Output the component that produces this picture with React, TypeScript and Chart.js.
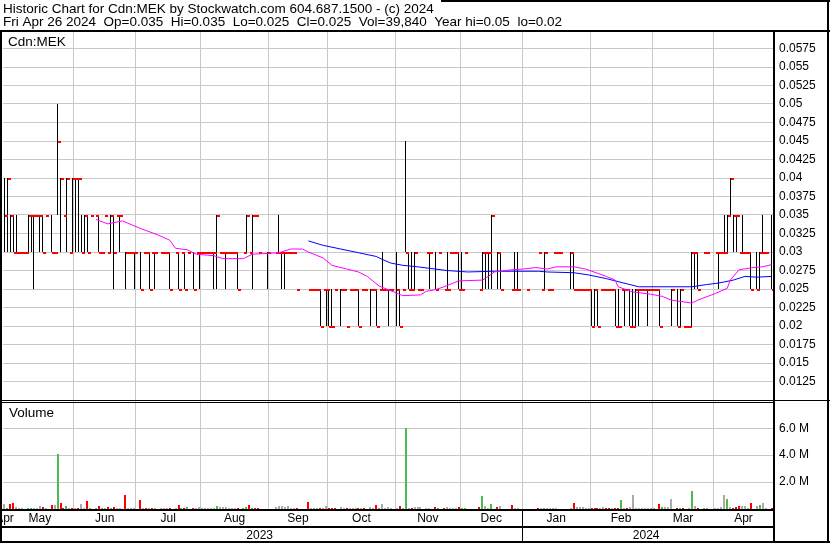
import React, { useEffect, useRef } from 'react';
import { Chart, registerables } from 'chart.js';

Chart.register(...registerables);

const CANVAS_W = 830;
const CANVAS_H = 543;
const FONT = '"Liberation Sans", Arial, Helvetica, sans-serif';
const GRID = '#c8c8c8';
const HEADER_FONT_SIZE = 13.5;

const TITLE = 'Historic Chart for Cdn:MEK by Stockwatch.com 604.687.1500 - (c) 2024';
const SUBTITLE = 'Fri Apr 26 2024  Op=0.035  Hi=0.035  Lo=0.025  Cl=0.025  Vol=39,840  Year hi=0.05  lo=0.02';
const PRICE_CAPTION = 'Cdn:MEK';
const VOLUME_CAPTION = 'Volume';

// Trading-day index: 0 = Fri Apr 28 2023 ... 260 = Fri Apr 26 2024 (null = no trade)
const highs = [
  .04, .04, .035, .035, .035, .03, .03, .03, .035, .035,
  .035, .035, .035, .035, .035, null, .035, .03, .05, .04,
  .035, .04, .03, .04, .04, .04, .035, .035, .035, .035,
  null, .035, .035, .03, .035, .03, .035, .035, .035, .035,
  null, .03, .03, .03, .03, null, .03, .03, .03, .03,
  .03, .03, null, .03, .03, .03, .03, null, .03, .03,
  .03, .03, .03, null, .03, .03, .03, .03, .03, .03,
  .03, .03, .035, .03, .03, .03, .03, .03, .03, .03,
  null, .03, .035, .03, .035, .035, .03, null, null, .03,
  null, null, .03, .035, .03, .03, .03, .03, .03, .025,
  null, null, null, .025, .025, .025, .025, .025, .025, .025,
  .025, .025, .025, null, .025, .025, .02, .025, .025, .025,
  .025, .025, .025, null, .025, .025, .025, .025, .03, .025,
  .025, .025, null, .03, .025, .025, .045, .03, .03, .03,
  .025, .025, null, .03, .03, null, .03, .03, null, .025,
  .03, .03, .03, .03, .03, .03, .03, null, null, null,
  null, .025, .03, .03, .03, .035, null, .03, .03, null,
  null, null, .025, .03, .03, null, null, .025, null, null,
  null, .03, .025, .03, .025, .025, .03, .03, .03, null,
  null, null, .03, .03, .025, .025, .025, .025, .025, .025,
  .025, .025, .025, .025, .025, .025, .025, .025, .025, .025,
  .025, .025, .025, .025, .025, .025, .025, .025, .025, .025,
  .025, .025, .025, null, null, null, .025, null, .025, .025,
  .02, .02, .02, .03, .03, .03, null, .03, .03, null,
  null, .03, .03, .03, .035, .035, .04, .035, .035, .03,
  .035, .03, .03, .03, null, .03, .03, .035, .03, null,
  .035,
];

const lows = [
  .03, .03, .03, .03, .03, .03, .03, .03, .03, .03,
  .025, .035, .03, .03, .035, null, .03, .03, .035, .03,
  .035, .03, .03, .03, .03, .03, .03, .03, .03, .035,
  null, .035, .03, .03, .035, .03, .03, .025, .035, .03,
  null, .025, .03, .03, .025, null, .025, .03, .03, .025,
  .03, .025, null, .03, .03, .03, .025, null, .03, .025,
  .03, .025, .03, null, .025, .03, .025, .03, .03, .03,
  .03, .025, .025, .03, .03, .025, .03, .03, .03, .025,
  null, .03, .03, .03, .025, .035, .03, null, null, .025,
  null, null, .03, .03, .025, .025, .03, .03, .03, .025,
  null, null, null, .025, .025, .025, .025, .02, .025, .02,
  .02, .02, .025, null, .02, .025, .02, .025, .025, .025,
  .02, .025, .025, null, .02, .025, .02, .025, .025, .025,
  .02, .025, null, .02, .02, .025, .03, .025, .025, .025,
  .025, .025, null, .03, .025, null, .025, .03, null, .025,
  .025, .03, .03, .03, .025, .025, .03, null, null, null,
  null, .025, .025, .025, .025, .025, null, .025, .025, null,
  null, null, .025, .025, .025, null, null, .025, null, null,
  null, .03, .025, .025, .025, .025, .03, .03, .03, null,
  null, null, .025, .025, .025, .025, .025, .025, .025, .02,
  .02, .02, .025, .025, .025, .025, .025, .02, .02, .025,
  .02, .025, .02, .02, .02, .02, .025, .025, .02, .025,
  .025, .025, .02, null, null, null, .02, null, .02, .02,
  .02, .02, .02, .02, .025, .025, null, .03, .03, null,
  null, .03, .025, .03, .03, .03, .035, .03, .03, .03,
  .03, .03, .03, .025, null, .025, .025, .03, .03, null,
  .025,
];

const closes = [
  .035, .04, .035, .03, .03, .03, .03, .03, .035, .035,
  .035, .035, .035, .03, .035, null, .03, .03, .045, .04,
  .035, .04, .03, .04, .04, .04, .03, .035, .03, .035,
  null, .035, .03, .03, .035, .03, .035, .03, .035, .035,
  null, .03, .03, .03, .03, null, .025, .03, .03, .025,
  .03, .03, null, .03, .03, .03, .025, null, .03, .025,
  .03, .025, .03, null, .025, .03, .03, .03, .03, .03,
  .03, .03, .035, .03, .03, .03, .03, .03, .03, .025,
  null, .03, .035, .03, .035, .035, .03, null, null, .03,
  null, null, .03, .03, .03, .03, .03, .03, .03, .025,
  null, null, null, .025, .025, .025, .025, .02, .025, .025,
  .02, .02, .025, null, .025, .025, .02, .025, .025, .025,
  .02, .025, .025, null, .025, .025, .02, .025, .025, .025,
  .025, .025, null, .025, .02, .025, .03, .025, .025, .03,
  .025, .025, null, .03, .03, null, .025, .03, null, .025,
  .025, .03, .03, .03, .025, .025, .03, null, null, null,
  null, .025, .03, .03, .03, .035, null, .03, .025, null,
  null, null, .025, .025, .025, null, null, .025, null, null,
  null, .03, .025, .03, .025, .025, .03, .03, .03, null,
  null, null, .03, .025, .025, .025, .025, .025, .025, .02,
  .025, .02, .025, .025, .025, .025, .025, .02, .02, .025,
  .025, .025, .02, .02, .025, .025, .025, .025, .025, .025,
  .025, .025, .02, null, null, null, .025, null, .02, .025,
  .02, .02, .02, .03, .03, .025, null, .03, .03, null,
  null, .03, .03, .03, .03, .035, .04, .035, .035, .03,
  .03, .03, .03, .025, null, .025, .03, .03, .03, null,
  .025,
];

// Daily volume in millions of shares
const volumesM = [
  0.38, 0.05, 0.35, 0.48, 0.15, 0.05, 0.05, 0.03, 0.06, 0.06,
  0.08, 0.04, 0.23, 0.12, 0.05, 0, 0.3, 0.3, 4.07, 0.48,
  0.05, 0.23, 0.05, 0.06, 0.04, 0.05, 0.4, 0.05, 0.6, 0.05,
  0, 0.05, 0.23, 0.05, 0.04, 0.15, 0.1, 0.15, 0.06, 0.06,
  0, 1.06, 0.08, 0.06, 0.04, 0, 0.68, 0.05, 0.06, 0.05,
  0.05, 0.05, 0, 0.08, 0.06, 0.05, 0.06, 0, 0.05, 0.3,
  0.1, 0.06, 0.15, 0, 0.06, 0.05, 0.12, 0.08, 0.06, 0.08,
  0.05, 0.06, 0.23, 0.15, 0.15, 0.15, 0.1, 0.08, 0.05, 0.06,
  0, 0.05, 0.15, 0.3, 0.08, 0.05, 0.05, 0, 0, 0.03,
  0, 0, 0.12, 0.2, 0.2, 0.15, 0.2, 0.1, 0.05, 0.08,
  0, 0, 0, 0.53, 0.08, 0.06, 0.05, 0.1, 0.06, 0.2,
  0.06, 0.05, 0.06, 0, 0.15, 0.05, 0.08, 0.05, 0.04, 0.06,
  0.08, 0.05, 0.06, 0, 0.15, 0.05, 0.3, 0.06, 0.4, 0.1,
  0.12, 0.08, 0, 0.1, 0.23, 0.05, 6.02, 0.05, 0.1, 0.15,
  0.12, 0.15, 0, 0.1, 0.05, 0, 0.15, 0.06, 0, 0.06,
  0.15, 0.08, 0.08, 0.06, 0.15, 0.06, 0.05, 0, 0, 0,
  0, 0.15, 0.98, 0.23, 0.05, 0.4, 0, 0.12, 0.23, 0,
  0, 0, 0.3, 0.08, 0.06, 0, 0, 0.03, 0, 0,
  0, 0.05, 0.06, 0.08, 0.06, 0.06, 0.06, 0.05, 0.03, 0,
  0, 0, 0.05, 0.48, 0.15, 0.15, 0.12, 0.1, 0.08, 0.05,
  0.06, 0.05, 0.06, 0.15, 0.06, 0.06, 0.05, 0.05, 0.05, 0.68,
  0.05, 0.06, 0.15, 1.06, 0.1, 0.1, 0.08, 0.1, 0.06, 0.08,
  0.04, 0.03, 0.4, 0.15, 0.15, 0.12, 0.78, 0, 0.06, 0.08,
  0.05, 0.03, 0.05, 1.36, 0.23, 0.1, 0, 0.05, 0.05, 0,
  0, 0.08, 0.1, 0.12, 1.06, 0.78, 0.12, 0.08, 0.15, 0.23,
  0.2, 0.2, 0.1, 0.43, 0, 0.23, 0.3, 0.48, 0.05, 0,
  0.04,
];

// Day direction shown by the volume colour: u = up, d = down, n = unchanged
const volumeDirection =
  'nuddnnnnuu' + 'nnndnndnud' + 'dundndnndu' + 'nndundudnn' + 'ndnnnndndn' +
  'dnnnnndnnd' + 'udundnnnnn' + 'nnunnnnnnd' + 'nuududdnnn' + 'nnnnnnnnnd' +
  'nnndnnndnn' + 'dddnnndnnn' + 'dndnnndunn' + 'nnnndnundn' + 'nnnnnndund' +
  'nnnnduunnn' + 'ndunnundnn' + 'nndnnnnnnn' + 'ndnunnnnnn' + 'nnndnnnnnd' +
  'ddnnddnddu' + 'ndnnnnnnnn' + 'nndunnnndu' + 'dnnundnuun' + 'nnnnnunddd' +
  'nnndnnunnn' + 'd';

// Moving averages (day index, price)
const maShortDays = [31, 35, 40, 46, 52, 56, 58, 62, 65, 71, 74, 81, 84, 93, 97, 101, 103, 108, 111, 116, 120, 123, 127, 132, 135, 141, 143, 146, 149, 154, 162, 164, 166, 172, 176, 180, 184, 187, 193, 197, 204, 207, 208, 213, 219, 223, 226, 233, 235, 241, 245, 246, 249, 254, 257, 260];
const maShortValues = [.0344, .0338, .0342, .0332, .0323, .0316, .0305, .0303, .0297, .0295, .0291, .0291, .0297, .0299, .0304, .0304, .0300, .0292, .0282, .0277, .0273, .0267, .0254, .0246, .0241, .0242, .0247, .0249, .0253, .0261, .0262, .0267, .0273, .0276, .0277, .0279, .0277, .0280, .0280, .0277, .0267, .0262, .0253, .0246, .0243, .0240, .0235, .0231, .0235, .0244, .0251, .0262, .0276, .0279, .0280, .0283];
const maLongDays = [103, 108, 114, 120, 126, 128, 131, 135, 140, 146, 150, 157, 166, 172, 181, 184, 193, 198, 204, 210, 215, 233, 238, 242, 247, 251, 255, 260];
const maLongValues = [.0315, .0309, .0304, .0299, .0294, .0290, .0285, .0282, .0280, .0277, .0275, .0273, .0274, .0274, .0274, .0273, .0272, .0269, .0264, .0258, .0253, .0253, .0256, .0258, .0262, .0267, .0266, .0267];

// Axis ticks
const monthLabels = ['Apr', 'May', 'Jun', 'Jul', 'Aug', 'Sep', 'Oct', 'Nov', 'Dec', 'Jan', 'Feb', 'Mar', 'Apr'];
const monthBounds = [-0.5, 0.5, 23.5, 44.5, 66.5, 89.5, 109.5, 132.5, 154.5, 175.5, 198.5, 219.5, 240.5, 260.5];
const yearLabels = ['2023', '2024'];
const yearCenters = [86.5, 217.5];
const priceTicks = [.0125, .015, .0175, .02, .0225, .025, .0275, .03, .0325, .035, .0375, .04, .0425, .045, .0475, .05, .0525, .055, .0575];
const volumeTicks = [2e6, 4e6, 6e6];

const DIR_COLORS: Record<string, string> = { u: '#4cbb4c', d: '#ff0000', n: '#aaaaaa' };

function makeCloseTick(): HTMLCanvasElement {
  const c = document.createElement('canvas');
  c.width = 8;
  c.height = 4;
  const g = c.getContext('2d')!;
  g.fillStyle = '#ff0000';
  g.fillRect(5, 2, 3, 2);
  return c;
}

const snapPlugin = {
  id: 'snapPixels',
  afterDatasetsUpdate(chart: any) {
    chart.data.datasets.forEach((ds: any, di: number) => {
      const meta = chart.getDatasetMeta(di);
      meta.data.forEach((el: any) => {
        if (ds.label === 'Range') {
          el.x = Math.floor(el.x) + 0.5;
          el.y = Math.round(el.y);
          el.base = Math.round(el.base);
        } else if (ds.label === 'Close') {
          el.x = Math.floor(el.x);
          el.y = Math.round(el.y);
        } else if (ds.label === 'Volume') {
          el.x = Math.round(el.x);
          el.y = Math.round(el.y);
          el.base = Math.round(el.base);
        }
      });
    });
  },
};

const framePlugin = {
  id: 'frame',
  afterDraw(chart: any) {
    const { ctx, chartArea: a } = chart;
    const yp = chart.scales.yp;
    const yv = chart.scales.yv;
    const xs = chart.scales.x;
    const xy = chart.scales.xy;
    ctx.save();
    ctx.fillStyle = '#000';
    ctx.font = `${HEADER_FONT_SIZE}px ${FONT}`;
    const tw = ctx.measureText(TITLE).width;
    const hdrStart = Math.round(a.left + tw + 7);
    ctx.fillRect(hdrStart, 0, CANVAS_W - hdrStart, 2);
    ctx.fillRect(0, a.top, CANVAS_W, 2);
    ctx.fillRect(0, a.top, 2, CANVAS_H - a.top);
    ctx.fillRect(CANVAS_W - 3, 0, 2, CANVAS_H);
    ctx.fillRect(a.right, a.top, 2, CANVAS_H - a.top);
    ctx.fillRect(0, yp.bottom, CANVAS_W, 1);
    ctx.fillRect(0, yv.top + 2, a.right, 1);
    ctx.fillRect(0, a.bottom, a.right, 2);
    ctx.fillRect(0, xy.top - 1, a.right, 2);
    ctx.fillRect(0, CANVAS_H - 2, CANVAS_W, 2);
    const xd = Math.round(xs.getPixelForValue(monthBounds[9]));
    ctx.fillRect(xd, a.bottom, 1, CANVAS_H - a.bottom);
    ctx.font = `13.5px ${FONT}`;
    ctx.textBaseline = 'alphabetic';
    ctx.textAlign = 'left';
    ctx.fillText(PRICE_CAPTION, a.left + 5, yp.top + 16);
    ctx.fillText(VOLUME_CAPTION, a.left + 6, yv.top + 17);
    ctx.restore();
  },
};

export default function App() {
  const canvasRef = useRef<HTMLCanvasElement | null>(null);

  useEffect(() => {
    const canvas = canvasRef.current;
    if (!canvas) return;
    const days = highs.map((_, i) => i);
    const rangeData = days
      .filter((i) => highs[i] != null && lows[i] != null && (highs[i] as number) > (lows[i] as number))
      .map((i) => ({ x: i, y: [lows[i], highs[i]] }));
    const closeData = days.filter((i) => closes[i] != null).map((i) => ({ x: i, y: closes[i] }));
    const volData = days.filter((i) => volumesM[i] > 0).map((i) => ({ x: i, y: volumesM[i] * 1e6 }));
    const volColors = volData.map((p) => DIR_COLORS[volumeDirection[p.x]] || DIR_COLORS.n);
    const maShort = maShortDays.map((d, k) => ({ x: d, y: maShortValues[k] }));
    const maLong = maLongDays.map((d, k) => ({ x: d, y: maLongValues[k] }));
    const monthCenters = monthBounds.slice(0, -1).map((b, k) => (b + monthBounds[k + 1]) / 2);
    const tickFont = { family: FONT, size: 12 };
    const headerFont = { family: FONT, size: HEADER_FONT_SIZE, weight: 'normal', lineHeight: '12px' };
    const tickImg = makeCloseTick();

    const chart = new Chart(canvas, {
      type: 'bar',
      data: {
        datasets: [
          {
            type: 'line', label: 'MA short', data: maShort as any, xAxisID: 'x', yAxisID: 'yp',
            borderColor: '#ff00ff', borderWidth: 1, pointRadius: 0, fill: false, tension: 0, order: 0,
          },
          {
            type: 'line', label: 'MA long', data: maLong as any, xAxisID: 'x', yAxisID: 'yp',
            borderColor: '#0000ff', borderWidth: 1, pointRadius: 0, fill: false, tension: 0, order: 0,
          },
          {
            type: 'line', label: 'Close', data: closeData as any, xAxisID: 'x', yAxisID: 'yp',
            showLine: false, pointStyle: tickImg as any, pointRadius: 2, pointHoverRadius: 2, order: 1,
          },
          {
            type: 'bar', label: 'Range', data: rangeData as any, xAxisID: 'x', yAxisID: 'yp',
            backgroundColor: '#000000', borderWidth: 0, grouped: false, maxBarThickness: 1,
            inflateAmount: 0, order: 2,
          } as any,
          {
            type: 'bar', label: 'Volume', data: volData as any, xAxisID: 'x', yAxisID: 'yv',
            backgroundColor: volColors, borderWidth: 0, grouped: false, maxBarThickness: 2,
            inflateAmount: 0, order: 3,
          } as any,
        ],
      },
      options: {
        responsive: false,
        maintainAspectRatio: false,
        devicePixelRatio: 1,
        animation: false,
        events: [],
        layout: { padding: { left: 3, right: 0, top: 0, bottom: 2 }, autoPadding: false },
        plugins: {
          legend: { display: false },
          tooltip: { enabled: false },
          title: {
            display: true, text: TITLE, align: 'start', color: '#000',
            font: headerFont,
            padding: { top: 3.5, bottom: 0.5 },
          },
          subtitle: {
            display: true, text: SUBTITLE, align: 'start', color: '#000',
            font: headerFont,
            padding: { top: 0, bottom: 2 },
          },
        },
        scales: {
          x: {
            type: 'linear', position: 'bottom', min: -0.5, max: 260.5, offset: false, bounds: 'data',
            grid: { color: GRID, drawTicks: false, offset: false },
            border: { display: false },
            ticks: { display: false },
            afterBuildTicks: (s: any) => { s.ticks = monthBounds.slice(2, -1).map((v) => ({ value: v })); },
            afterFit: (s: any) => { s.height = 0; s.paddingLeft = 0; s.paddingRight = 0; },
          },
          xm: {
            type: 'linear', position: 'bottom', min: -0.5, max: 260.5, offset: false, bounds: 'data',
            grid: { display: false, drawTicks: false, offset: false },
            border: { display: false },
            ticks: {
              autoSkip: false, maxRotation: 0, minRotation: 0, padding: 2, font: tickFont, color: '#000',
              callback: (_v: any, i: number) => monthLabels[i],
            },
            afterBuildTicks: (s: any) => { s.ticks = monthCenters.map((v) => ({ value: v })); },
            afterFit: (s: any) => { s.height = 18; s.paddingLeft = 0; s.paddingRight = 0; },
          },
          xy: {
            type: 'linear', position: 'bottom', min: -0.5, max: 260.5, offset: false, bounds: 'data',
            grid: { display: false, drawTicks: false, offset: false },
            border: { display: false },
            ticks: {
              autoSkip: false, maxRotation: 0, minRotation: 0, padding: 1, font: tickFont, color: '#000',
              callback: (_v: any, i: number) => yearLabels[i],
            },
            afterBuildTicks: (s: any) => { s.ticks = yearCenters.map((v) => ({ value: v })); },
            afterFit: (s: any) => { s.height = 14; s.paddingLeft = 0; s.paddingRight = 0; },
          },
          yp: {
            type: 'linear', position: 'right', stack: 'panels', stackWeight: 370, min: 0.01, max: 0.06,
            bounds: 'data',
            grid: { color: GRID, drawTicks: false },
            border: { display: false },
            ticks: {
              autoSkip: false, padding: 6, font: tickFont, color: '#000',
              callback: (v: any) => String(+Number(v).toFixed(4)),
            },
            afterBuildTicks: (s: any) => { s.ticks = priceTicks.map((v) => ({ value: v })); },
            afterFit: (s: any) => { s.width = 57; s.paddingTop = 0; s.paddingBottom = 0; },
          },
          yv: {
            type: 'linear', position: 'right', stack: 'panels', stackWeight: 109, min: 0, max: 8.1e6,
            bounds: 'data',
            grid: { color: GRID, drawTicks: false },
            border: { display: false },
            ticks: {
              autoSkip: false, padding: 6, font: tickFont, color: '#000',
              callback: (v: any) => (Number(v) / 1e6).toFixed(1) + ' M',
            },
            afterBuildTicks: (s: any) => { s.ticks = volumeTicks.map((v) => ({ value: v })); },
            afterFit: (s: any) => { s.width = 57; s.paddingTop = 0; s.paddingBottom = 0; },
          },
        } as any,
      },
      plugins: [snapPlugin, framePlugin],
    } as any);

    return () => chart.destroy();
  }, []);

  return (
    <div style={{ position: 'absolute', left: 0, top: 0, width: CANVAS_W, height: CANVAS_H, background: '#fff' }}>
      <canvas ref={canvasRef} width={CANVAS_W} height={CANVAS_H} style={{ display: 'block', width: CANVAS_W, height: CANVAS_H }} />
    </div>
  );
}
